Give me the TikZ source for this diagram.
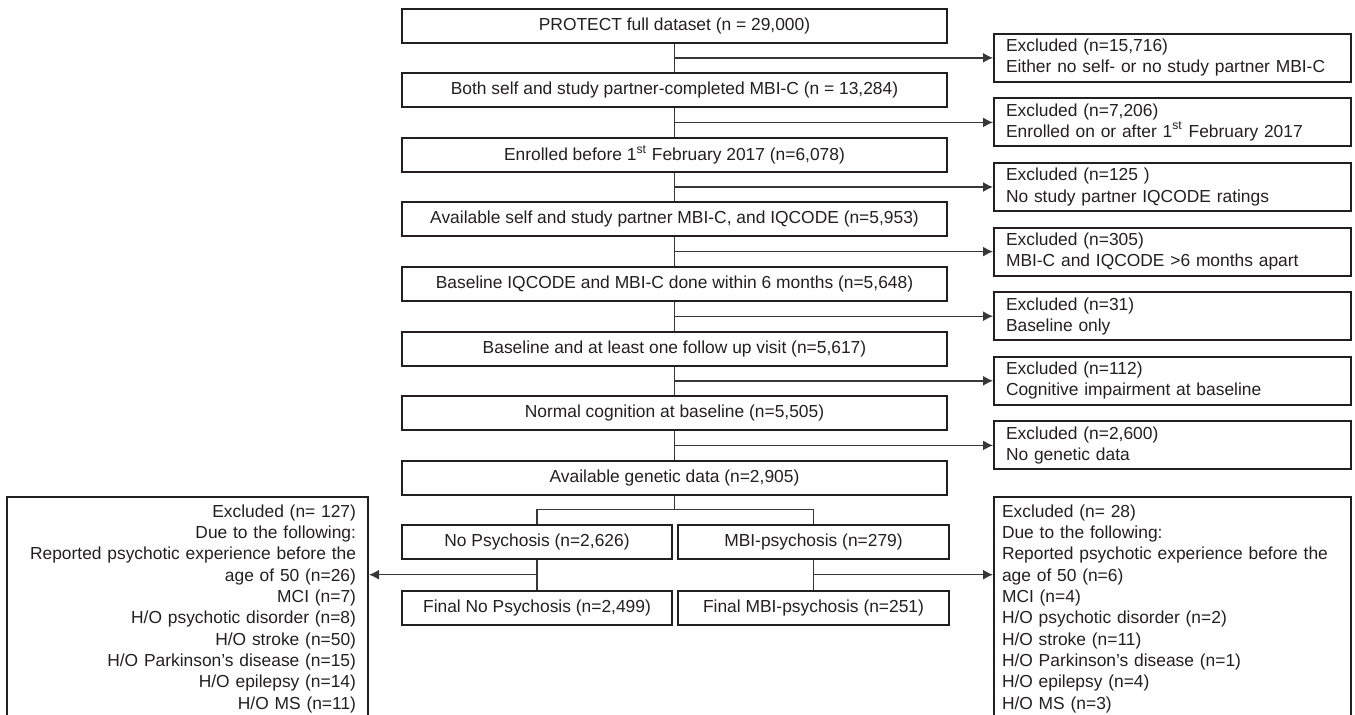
\documentclass[tikz,border=0pt]{standalone}
\usepackage{fontspec}
\setmainfont{Liberation Sans}
\usetikzlibrary{arrows.meta,positioning}
\definecolor{ink}{RGB}{35,31,32}
\definecolor{wire}{RGB}{55,55,55}
\tikzstyle{stage}=[draw=ink, line width=1pt, minimum width=272.5pt, minimum height=17pt, inner sep=0pt, align=center]
\tikzstyle{split}=[stage, minimum width=135pt]
\tikzstyle{excl}=[draw=ink, line width=1pt, text width=166.5pt, inner xsep=6pt, inner ysep=0pt, minimum height=24pt, align=left]
\tikzstyle{reasons}=[draw=ink, line width=1pt, inner ysep=4pt]
\tikzstyle{link}=[draw=wire, line width=0.7pt]

\begin{document}
\begin{tikzpicture}[x=0.5pt,y=-0.5pt,>={Latex[length=5pt,width=5pt]},font=\fontsize{8.7}{10.65}\selectfont,text=ink]
    \useasboundingbox (0,0) rectangle (1355,714);
    \coordinate (ex) at (993,0);
    \coordinate (lx) at (369,0);
    % main column
    \node [stage] (a) at (674.5,25.5) {PROTECT full dataset (n = 29,000)};
    \node [stage] (b) [below=14.3pt of a] {Both self and study partner-completed MBI-C (n = 13,284)};
    \node [stage] (c) [below=14.3pt of b] {Enrolled before 1\textsuperscript{st} February 2017 (n=6,078)};
    \node [stage] (d) [below=14.3pt of c] {Available self and study partner MBI-C, and IQCODE (n=5,953)};
    \node [stage] (e) [below=14.3pt of d] {Baseline IQCODE and MBI-C done within 6 months (n=5,648)};
    \node [stage] (f) [below=14.3pt of e] {Baseline and at least one follow up visit (n=5,617)};
    \node [stage] (g) [below=14.3pt of f] {Normal cognition at baseline (n=5,505)};
    \node [stage] (h) [below=14.3pt of g] {Available genetic data (n=2,905)};
    \node [split] (np) [below=14pt of h.south west, anchor=north west] {No Psychosis (n=2,626)};
    \node [split, minimum width=135.5pt] (mp) [right=2pt of np] {MBI-psychosis (n=279)};
    \node [split] (fnp) [below=15pt of np] {Final No Psychosis (n=2,499)};
    \node [split, minimum width=135.5pt] (fmp) [below=15pt of mp] {Final MBI-psychosis (n=251)};
    % branch points
    \path (a.south) -- (b.north) coordinate[midway] (ab);
    \path (b.south) -- (c.north) coordinate[midway] (bc);
    \path (c.south) -- (d.north) coordinate[midway] (cd);
    \path (d.south) -- (e.north) coordinate[midway] (de);
    \path (e.south) -- (f.north) coordinate[midway] (ef);
    \path (f.south) -- (g.north) coordinate[midway] (fg);
    \path (g.south) -- (h.north) coordinate[midway] (gh);
    \path (np.south) -- (fnp.north) coordinate[midway] (nq);
    \path (mp.south) -- (fmp.north) coordinate[midway] (mq);
    % exclusions
    \node [excl, anchor=west] (xa) at (ab -| ex) {Excluded (n=15,716)\\Either no self- or no study partner MBI-C};
    \node [excl, anchor=west] (xb) at (bc -| ex) {Excluded (n=7,206)\\Enrolled on or after 1\textsuperscript{st} February 2017};
    \node [excl, anchor=west] (xc) at (cd -| ex) {Excluded (n=125 )\\No study partner IQCODE ratings};
    \node [excl, anchor=west] (xd) at (de -| ex) {Excluded (n=305)\\MBI-C and IQCODE >6 months apart};
    \node [excl, anchor=west] (xe) at (ef -| ex) {Excluded (n=31)\\Baseline only};
    \node [excl, anchor=west] (xf) at (fg -| ex) {Excluded (n=112)\\Cognitive impairment at baseline};
    \node [excl, anchor=west] (xg) at (gh -| ex) {Excluded (n=2,600)\\No genetic data};
    \node [reasons, anchor=north east, align=right, text width=168.5pt, inner xsep=6pt] (exl) at (h.south -| lx) {Excluded (n= 127)\\Due to the following:\\Reported psychotic experience before the\\age of 50 (n=26)\\MCI (n=7)\\H/O psychotic disorder (n=8)\\H/O stroke (n=50)\\H/O Parkinson’s disease (n=15)\\H/O epilepsy (n=14)\\H/O MS (n=11)\\\strut};
    \node [reasons, anchor=north west, align=left, text width=170.5pt, inner xsep=4pt] (exr) at (h.south -| ex) {Excluded (n= 28)\\Due to the following:\\Reported psychotic experience before the\\age of 50 (n=6)\\MCI (n=4)\\H/O psychotic disorder (n=2)\\H/O stroke (n=11)\\H/O Parkinson’s disease (n=1)\\H/O epilepsy (n=4)\\H/O MS (n=3)\\\strut};
    % connectors
    \draw [link] (a) -- (b);
    \draw [link] (b) -- (c);
    \draw [link] (c) -- (d);
    \draw [link] (d) -- (e);
    \draw [link] (e) -- (f);
    \draw [link] (f) -- (g);
    \draw [link] (g) -- (h);
    \draw [link,->] (ab) -- (xa);
    \draw [link,->] (bc) -- (xb);
    \draw [link,->] (cd) -- (xc);
    \draw [link,->] (de) -- (xd);
    \draw [link,->] (ef) -- (xe);
    \draw [link,->] (fg) -- (xf);
    \draw [link,->] (gh) -- (xg);
    \draw [link] (h.south) -- ++(0,14) coordinate (hs);
    \draw [link] (np.north) |- (hs) -| (mp.north);
    \draw [link] (np) -- (fnp);
    \draw [link] (mp) -- (fmp);
    \draw [link,->] (nq) -- (nq -| exl.east);
    \draw [link,->] (mq) -- (mq -| exr.west);
\end{tikzpicture}
\end{document}
